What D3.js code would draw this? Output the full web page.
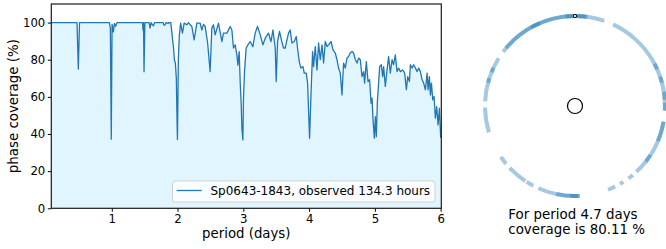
<!DOCTYPE html>
<html><head><meta charset="utf-8">
<script src="https://cdn.jsdelivr.net/npm/d3@7/dist/d3.min.js"></script>
<style>
html,body{margin:0;padding:0;background:#fff;}
svg{display:block;font-family:"DejaVu Sans",sans-serif;}
</style></head>
<body>
<svg id="chart" width="666" height="249"></svg>
<script>
// ---- data ----
const periods = [0.08,0.471,0.491,0.509,0.963,0.978,0.992,1.004,1.024,1.039,1.057,1.08,1.468,1.474,1.482,1.490,1.503,1.567,1.582,1.597,1.613,1.633,1.651,1.780,1.795,1.810,1.825,1.856,1.870,1.897,1.922,1.937,1.952,1.967,1.981,1.993,1.998,2.012,2.027,2.047,2.074,2.100,2.141,2.165,2.217,2.252,2.293,2.343,2.369,2.394,2.419,2.457,2.495,2.521,2.546,2.572,2.622,2.674,2.698,2.750,2.800,2.826,2.850,2.876,2.902,2.917,2.937,2.952,2.967,2.978,2.993,3.002,3.018,3.043,3.069,3.104,3.145,3.180,3.215,3.257,3.298,3.333,3.383,3.420,3.450,3.485,3.500,3.520,3.550,3.587,3.611,3.637,3.663,3.687,3.713,3.739,3.774,3.805,3.824,3.850,3.876,3.907,3.926,3.957,3.977,4.007,4.033,4.053,4.068,4.094,4.120,4.144,4.170,4.196,4.220,4.246,4.272,4.296,4.333,4.363,4.398,4.424,4.448,4.474,4.500,4.524,4.550,4.576,4.600,4.626,4.652,4.676,4.703,4.728,4.753,4.779,4.804,4.829,4.844,4.870,4.896,4.920,4.942,4.957,4.972,4.992,5.007,5.022,5.038,5.057,5.073,5.098,5.118,5.133,5.159,5.185,5.209,5.235,5.261,5.285,5.311,5.337,5.361,5.388,5.423,5.453,5.479,5.499,5.525,5.540,5.566,5.590,5.616,5.642,5.666,5.692,5.718,5.742,5.768,5.794,5.809,5.829,5.844,5.860,5.880,5.900,5.920,5.940,5.961,5.981,6.001];
const coverage = [100,100,75,100,100,97,37.2,99,95,99.5,98,100,100,96,100,73.5,100,100,97,100,99,98.3,100,100,98.5,98.8,100,99.5,100,100,91.6,87,80,78,70,45,37,80,93.4,99.7,94.3,99.7,98.8,100,97.9,90.7,99.7,99.7,96,99,98,89,73.6,97,98.8,93.4,99.7,89.8,94.3,94.3,97.9,96,86.3,88,82.5,77,84.4,68,56.6,43,36.8,59,73.6,86.3,88,89.8,87,94.3,97.9,93.4,88,91.6,94.3,89.8,96,86.3,68.2,89.8,95.2,89.5,86.3,86.3,90.7,94.3,96,89,89.8,92.5,86.3,79,75.5,76.3,72.8,72.8,67.4,37.7,65.6,84.4,76.3,87.1,74.5,89,80,88,78.2,89.8,87.1,88,89.8,85.3,83.6,80,75.5,72.8,61,78.2,75.5,80.9,81.7,83.6,84.4,83.6,80.1,78.2,80.9,80,70.9,73.6,67.4,79,68.2,69.2,56.6,59.3,47.6,37.7,49.4,38.6,57.5,67.4,76.3,77.3,70.9,76.3,65.6,74.5,81.7,72.8,80,77.3,82.6,73.6,75.5,73.6,74.5,72.8,63.8,70.9,68.2,77.3,75.5,77.3,75.5,73.6,75.5,73.6,69.2,67.4,63.8,72.8,63.8,70.9,61,67.4,58.4,60.2,48.5,54.8,44.9,53.9,38];
const xTicks = [1,2,3,4,5,6];
const yTicks = [0,20,40,60,80,100];
const seriesLabel = "Sp0643-1843, observed 134.3 hours";
const xLabel = "period (days)";
const yLabel = "phase coverage (%)";
// observed phase intervals (degrees, clockwise from top) for period 4.7 days
const arcStarts = [307,0,25,100,140,147.5,153.5,177,207.5,213.5,230,253,273, 310,331,350,0,354,0,285,292,62,71,81,88,100,123,177,178];
const arcEnds   = [360,19,93,137,143.5,150,158.5,204,212.5,226.5,235.5,269,302, 350,337,360,8,360,7,288,295,66,75,86,93,113,128,192,183];
const shownPeriod = 4.7;
const shownCoverage = 80.11;

// ---- drawing ----
const svg = d3.select("#chart");
const L = 51.3, R = 441.3, T = 4, B = 208.3;
const x = d3.scaleLinear().domain([0.08, 6.01]).range([L, R]);
const y = d3.scaleLinear().domain([0, 110]).range([B, T]);
const pts = periods.map((p, i) => [p, coverage[i]]);

svg.append("path").datum(pts)
  .attr("d", d3.area().x(d => x(d[0])).y0(y(0)).y1(d => y(d[1])))
  .attr("fill", "#e1f5fe");
svg.append("path").datum(pts)
  .attr("d", d3.line().x(d => x(d[0])).y(d => y(d[1])))
  .attr("fill", "none").attr("stroke", "#1f77b4").attr("stroke-width", 1.3)
  .attr("stroke-linejoin", "round");

// axes
const xAxis = svg.append("g").attr("transform", `translate(0,${B})`)
  .call(d3.axisBottom(x).tickValues(xTicks).tickFormat(d3.format("d")).tickSize(3.5).tickPadding(3));
const yAxis = svg.append("g").attr("transform", `translate(${L},0)`)
  .call(d3.axisLeft(y).tickValues(yTicks).tickFormat(d3.format("d")).tickSize(3.5).tickPadding(2.5));
[xAxis, yAxis].forEach(g => {
  g.select(".domain").remove();
  g.selectAll("line").attr("stroke", "#000").attr("stroke-width", 1);
  g.selectAll("text").attr("font-size", "11.7px").attr("fill", "#000")
    .attr("font-family", "DejaVu Sans");
});
svg.append("rect").attr("x", L).attr("y", T).attr("width", R - L).attr("height", B - T)
  .attr("fill", "none").attr("stroke", "#1a1a1a").attr("stroke-width", 1.2);

svg.append("text").attr("x", (L + R) / 2).attr("y", 237.5).attr("text-anchor", "middle")
  .attr("font-size", "13.3px").text(xLabel);
svg.append("text").attr("transform", `translate(18,${(T + B) / 2}) rotate(-90)`)
  .attr("text-anchor", "middle").attr("font-size", "13.4px").text(yLabel);

// legend
const lg = svg.append("g");
lg.append("rect").attr("x", 172.5).attr("y", 181).attr("width", 262.5).attr("height", 21)
  .attr("rx", 2.5).attr("fill", "#fff").attr("fill-opacity", 0.8)
  .attr("stroke", "#d0d0d0").attr("stroke-width", 1);
lg.append("line").attr("x1", 176.7).attr("x2", 201.7).attr("y1", 190.5).attr("y2", 190.5)
  .attr("stroke", "#1f77b4").attr("stroke-width", 1.3);
lg.append("text").attr("x", 210.5).attr("y", 195).attr("font-size", "12px").text(seriesLabel);

// phase ring
const cx = 575, cy = 106;
const ring = svg.append("g").attr("transform", `translate(${cx},${cy})`);
const rad = d3.scaleLinear().domain([0, 360]).range([0, 2 * Math.PI]);
const arcGen = d3.arc().innerRadius(88).outerRadius(92);
arcStarts.forEach((s, i) => {
  ring.append("path")
    .attr("d", arcGen({startAngle: rad(s), endAngle: rad(arcEnds[i])}))
    .attr("fill", "#1f77b4").attr("fill-opacity", 0.4);
});
ring.append("circle").attr("r", 7.5).attr("fill", "none").attr("stroke", "#000").attr("stroke-width", 1.2);
ring.append("circle").attr("cx", 0).attr("cy", -90).attr("r", 1.6)
  .attr("fill", "#fff").attr("stroke", "#000").attr("stroke-width", 1);

const t = svg.append("text").attr("font-size", "13.4px");
t.append("tspan").attr("x", 508.3).attr("y", 219).text(`For period ${shownPeriod} days`);
t.append("tspan").attr("x", 508.3).attr("y", 233.5).text(`coverage is ${shownCoverage.toFixed(2)} %`);
</script>
</body></html>
